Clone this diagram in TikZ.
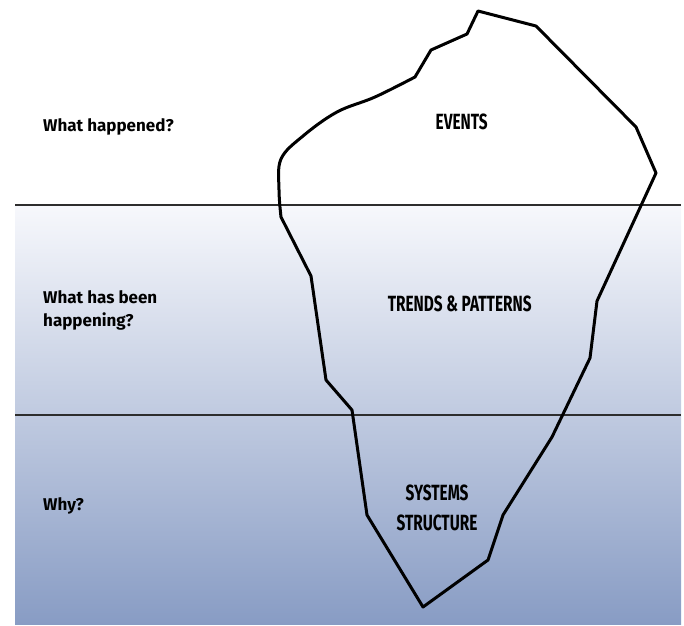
\documentclass[tikz,border=0pt]{standalone}
\usepackage{fontspec}
\setmainfont{Fira Sans}
\newfontfamily\condfont{Fira Sans}[FakeStretch=0.7]
\usepackage{xcolor}
\usepackage{tikz}
\usetikzlibrary{positioning}
\definecolor{seatop}{RGB}{247,248,252}
\definecolor{seabottom}{RGB}{136,156,196}
\definecolor{waterline}{RGB}{45,45,45}
\tikzset{
  question/.style={
    inner sep=0pt, align=left, font=\fontsize{17}{23.3}\selectfont\bfseries
  },
  level/.style={
    inner sep=0pt, align=center, font=\condfont\fontsize{22}{29.5}\selectfont\bfseries
  },
  divider/.style={draw=waterline, line width=1.5pt},
  iceberg/.style={draw=black, line width=3pt, line join=round},
}
\begin{document}
\begin{tikzpicture}[x=1pt, y=-1pt]
  \useasboundingbox (0,0) rectangle (684,625);
  % water
  \shade[top color=seatop, bottom color=seabottom] (15,205) rectangle (681,624);
  \draw[divider] (15,205) -- (681,205);
  \draw[divider] (15,415) -- (681,415);

  % the iceberg
  \draw[iceberg] (478,11) -- (536,26) -- (636,127) -- (656,173) -- (597,301)
    -- (590,358) -- (552,437) -- (503,515) -- (488,560) -- (423,607)
    -- (367,515) -- (352,410) -- (326,380) -- (311,276) -- (281,217)
    -- plot[smooth, tension=0.6] coordinates {(281,217) (279,190) (281,159) (303,136) (337,112) (375,97) (415,77)}
    -- (431,50) -- (467,34) -- cycle;

  \node[question, anchor=base west] (happened) at (43,131) {What happened?};
  \node[question, anchor=base west] (trend) at (43,326.7) {What has been\\happening?};
  \node[question, anchor=base west] (why) at (43,510.7) {Why?};

  \node[level, anchor=base] (events) at (461.7,129) {EVENTS};
  \node[level, anchor=base] (patterns) at (459.7,311.7) {TRENDS \& PATTERNS};
  \node[level, anchor=base] (structure) at (437,530) {SYSTEMS\\STRUCTURE};
\end{tikzpicture}
\end{document}
